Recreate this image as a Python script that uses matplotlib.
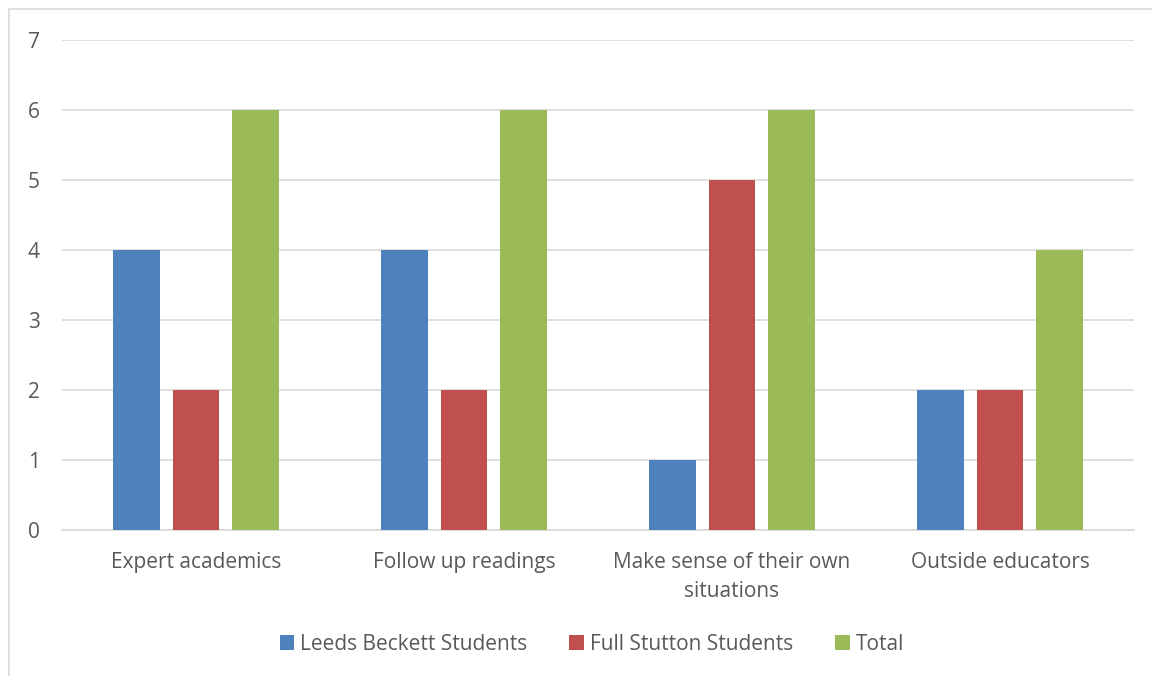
import matplotlib.pyplot as plt
import numpy as np
from matplotlib.patches import Rectangle

# Data
categories = ['Expert academics', 'Follow up readings',
              'Make sense of their own\nsituations', 'Outside educators']
leeds = [4, 4, 1, 2]
stutton = [2, 2, 5, 2]
total = [6, 6, 6, 4]
series_names = ['Leeds Beckett Students', 'Full Stutton Students', 'Total']
colors = ['#4f81bd', '#c0504d', '#9bbb59']

plt.rcParams['font.family'] = ['Open Sans', 'DejaVu Sans']
text_color = '#595959'

fig = plt.figure(figsize=(11.52, 6.76), dpi=100)
W, H = 1152, 676
ax = fig.add_axes([62 / W, 1 - 530 / H, (1134 - 62) / W, (530 - 40) / H])

x = np.arange(len(categories))
bar_w = 0.175
step = 0.222
for i, (vals, name, c) in enumerate(zip([leeds, stutton, total], series_names, colors)):
    ax.bar(x + (i - 1) * step, vals, bar_w, color=c, label=name, zorder=3)

ax.set_xlim(-0.5, len(categories) - 0.5)
ax.set_ylim(0, 7)
ax.set_yticks(range(0, 8))
ax.yaxis.grid(True, color='#d9d9d9', linewidth=1.2, zorder=0)
ax.set_xticks(x)
ax.set_xticklabels(categories, fontsize=15, color=text_color, linespacing=1.5)
ax.tick_params(axis='y', labelsize=15, labelcolor=text_color, length=0, pad=16)
ax.tick_params(axis='x', length=0, pad=16)
for s in ['top', 'right', 'left']:
    ax.spines[s].set_visible(False)
ax.spines['bottom'].set_color('#d9d9d9')
ax.spines['bottom'].set_linewidth(1.2)

leg = fig.legend(loc='center', bbox_to_anchor=(592 / W, 1 - 644 / H), ncol=3,
                 frameon=False, fontsize=15, handlelength=0.7, handleheight=0.7,
                 handletextpad=0.3, columnspacing=2.0)
for t in leg.get_texts():
    t.set_color(text_color)

# outer chart border
fig.patches.append(Rectangle((9 / W, -0.01), 1.2, 1 - 9 / H + 0.01,
                             transform=fig.transFigure, fill=False,
                             edgecolor='#d9d9d9', linewidth=1.2))

fig.savefig('out.png', dpi=100)
